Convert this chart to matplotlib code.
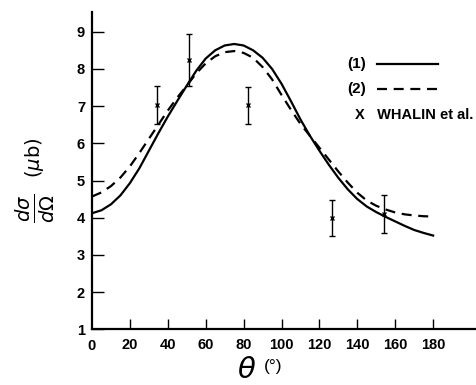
import matplotlib
matplotlib.use("Agg")
import matplotlib.pyplot as plt
from matplotlib.lines import Line2D

# ---- data ----
theta = [0, 5, 10, 15, 20, 25, 30, 35, 40, 45, 50, 55, 60, 65, 70, 75, 80, 85, 90,
         95, 100, 105, 110, 115, 120, 125, 130, 135, 140, 145, 150, 155, 160, 165, 170, 175, 180]
curve1 = [4.12, 4.20, 4.36, 4.60, 4.93, 5.33, 5.80, 6.27, 6.72, 7.14, 7.55, 7.95, 8.28, 8.50, 8.63, 8.67, 8.63, 8.50, 8.30,
          8.00, 7.60, 7.13, 6.64, 6.20, 5.80, 5.42, 5.07, 4.76, 4.50, 4.30, 4.15, 4.02, 3.90, 3.78, 3.67, 3.59, 3.52]
curve2 = [4.57, 4.68, 4.85, 5.08, 5.38, 5.74, 6.12, 6.50, 6.88, 7.23, 7.55, 7.88, 8.15, 8.34, 8.45, 8.48, 8.43, 8.30, 8.05,
          7.72, 7.30, 6.90, 6.52, 6.20, 5.88, 5.56, 5.24, 4.94, 4.67, 4.46, 4.32, 4.22, 4.14, 4.09, 4.06, 4.04, 4.03]

exp_theta = [34.2, 51.4, 82.5, 126.8, 154.3]
exp_val = [7.02, 8.24, 7.02, 4.0, 4.1]
exp_err = [0.51, 0.71, 0.49, 0.48, 0.5]

xticks = [20, 40, 60, 80, 100, 120, 140, 160, 180]
yticks = [1, 2, 3, 4, 5, 6, 7, 8, 9]

FONT = "Liberation Sans"
DASH = (0, (4.5, 3))

fig = plt.figure(figsize=(4.76, 3.85), dpi=100)
ax = fig.add_axes([92/476, (385-329.3)/385, 384/476, 317.3/385])

ax.plot(theta, curve1, color="black", lw=1.6)
ax.plot(theta, curve2, color="black", lw=1.6, linestyle=DASH)
ax.errorbar(exp_theta, exp_val, yerr=exp_err, fmt="x", color="black",
            ms=3.5, mew=1.0, elinewidth=1.0, capsize=2.5, capthick=1.0)

ax.set_xlim(0, 202.6)
ax.set_ylim(1, 9.53)
for s in ["top", "right"]:
    ax.spines[s].set_visible(False)
for s in ["left", "bottom"]:
    ax.spines[s].set_linewidth(1.6)

ax.set_xticks(xticks)
ax.set_yticks(yticks)
ax.tick_params(axis="x", direction="in", length=7.5, width=1.0, pad=6)
ax.tick_params(axis="y", direction="in", length=8.5, width=1.0, pad=5)
ax.set_yticklabels([str(v) for v in yticks], fontfamily=FONT, fontweight="bold", fontsize=10.5)
ax.set_xticklabels([str(v) for v in xticks], fontfamily=FONT, fontweight="bold", fontsize=10.5)
# the "0" at the origin
ax.text(0, -0.032, "0", transform=ax.get_xaxis_transform(), ha="center", va="top",
        fontfamily=FONT, fontweight="bold", fontsize=10.5)

# axis labels
fig.text(247/476, 1 - 370/385, r"$\theta$", fontsize=21, ha="center", va="center")
fig.text(273/476, 1 - 366/385, "(°)", fontsize=12.5, fontfamily=FONT,
         ha="center", va="center")
fig.text(35/476, 1 - 208/385, r"$\frac{d\sigma}{d\Omega}$", fontsize=20, rotation=90,
         ha="center", va="center")
fig.text(34/476, 1 - 158/385, r"($\mu$b)", fontsize=14, rotation=90,
         ha="center", va="center")

# legend
ax.text(0.665, 0.835, "(1)", transform=ax.transAxes, ha="left", va="center",
        fontfamily=FONT, fontweight="bold", fontsize=11)
ax.add_line(Line2D([0.741, 0.901], [0.835, 0.835], transform=ax.transAxes,
                   color="black", lw=1.6))
ax.text(0.665, 0.757, "(2)", transform=ax.transAxes, ha="left", va="center",
        fontfamily=FONT, fontweight="bold", fontsize=11)
ax.add_line(Line2D([0.741, 0.901], [0.757, 0.757], transform=ax.transAxes,
                   color="black", lw=1.6, linestyle=DASH))
ax.text(0.685, 0.675, "X   WHALIN et al.", transform=ax.transAxes, ha="left", va="center",
        fontfamily=FONT, fontweight="bold", fontsize=10.5)

fig.savefig("out.png", dpi=100)
